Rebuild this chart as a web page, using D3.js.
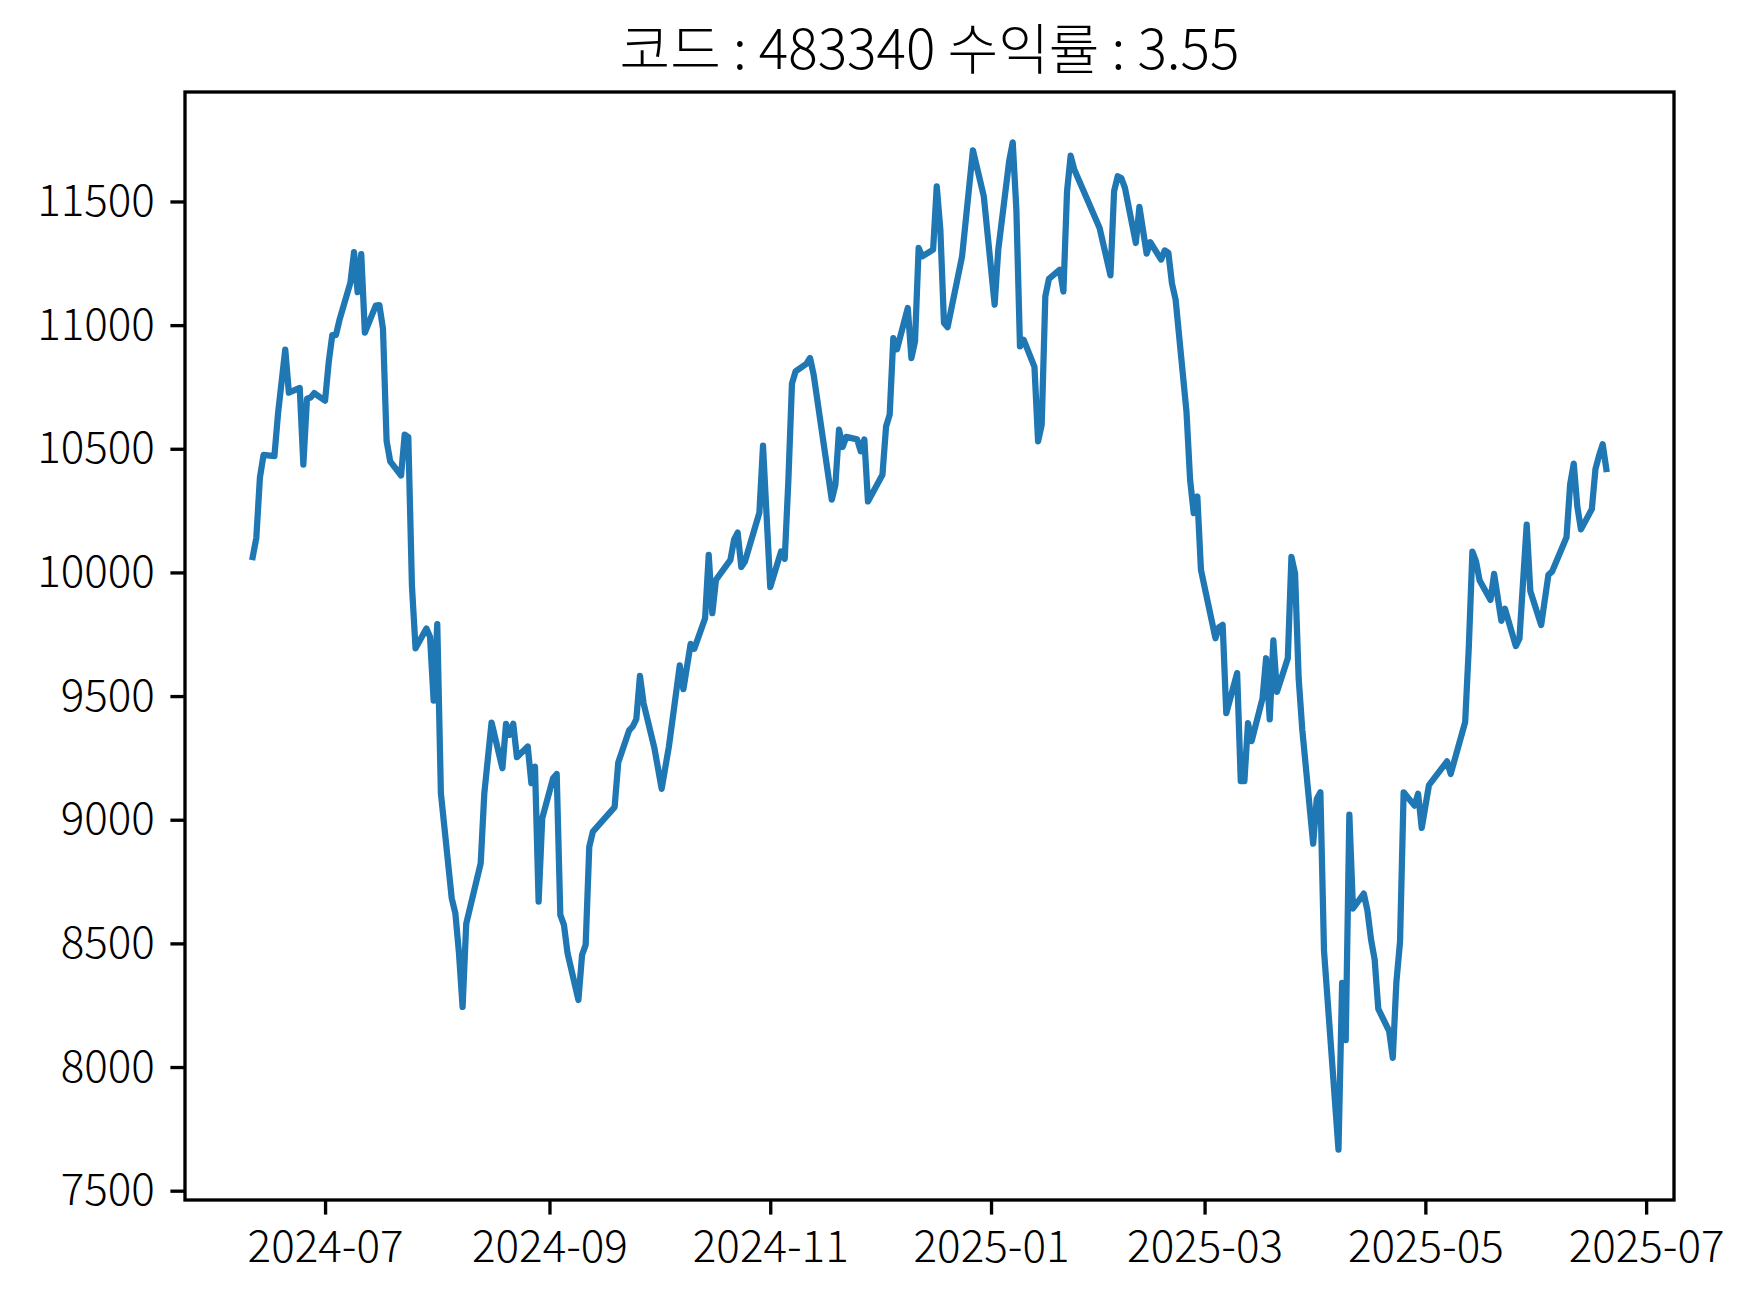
<!DOCTYPE html>
<html><head><meta charset="utf-8">
<script src="https://cdn.jsdelivr.net/npm/d3@7"></script>
<style>html,body{margin:0;padding:0;background:#fff}</style>
</head><body>
<svg id="chart" width="1758" height="1300"></svg>
<script>
const titleText = "코드 : 483340 수익률 : 3.55";
const dates = [
"2024-06-11","2024-06-12","2024-06-13","2024-06-14","2024-06-17","2024-06-18","2024-06-20","2024-06-21","2024-06-24","2024-06-25",
"2024-06-26","2024-06-27","2024-06-28","2024-07-01","2024-07-02","2024-07-03","2024-07-04","2024-07-05","2024-07-08","2024-07-09",
"2024-07-10","2024-07-11","2024-07-12","2024-07-15","2024-07-16","2024-07-17","2024-07-18","2024-07-19","2024-07-22","2024-07-23",
"2024-07-24","2024-07-25","2024-07-26","2024-07-29","2024-07-30","2024-07-31","2024-08-01","2024-08-02","2024-08-05","2024-08-06",
"2024-08-07","2024-08-08","2024-08-09","2024-08-13","2024-08-14","2024-08-16","2024-08-19","2024-08-20","2024-08-21","2024-08-22",
"2024-08-23","2024-08-26","2024-08-27","2024-08-28","2024-08-29","2024-08-30","2024-09-02","2024-09-03","2024-09-04","2024-09-05",
"2024-09-06","2024-09-09","2024-09-10","2024-09-11","2024-09-12","2024-09-13","2024-09-19","2024-09-20","2024-09-23","2024-09-24",
"2024-09-25","2024-09-26","2024-09-27","2024-09-30","2024-10-02","2024-10-04","2024-10-07","2024-10-08","2024-10-10","2024-10-11",
"2024-10-14","2024-10-15","2024-10-16","2024-10-17","2024-10-21","2024-10-22","2024-10-23","2024-10-24","2024-10-25","2024-10-29",
"2024-10-30","2024-11-01","2024-11-04","2024-11-05","2024-11-06","2024-11-07","2024-11-08","2024-11-11","2024-11-12","2024-11-13",
"2024-11-18","2024-11-19","2024-11-20","2024-11-21","2024-11-22","2024-11-25","2024-11-26","2024-11-27","2024-11-28","2024-12-02",
"2024-12-03","2024-12-04","2024-12-05","2024-12-06","2024-12-09","2024-12-10","2024-12-11","2024-12-12","2024-12-13","2024-12-16",
"2024-12-17","2024-12-18","2024-12-19","2024-12-20","2024-12-24","2024-12-27","2024-12-30","2025-01-02","2025-01-03","2025-01-06",
"2025-01-07","2025-01-08","2025-01-09","2025-01-10","2025-01-13","2025-01-14","2025-01-15","2025-01-16","2025-01-17","2025-01-20",
"2025-01-21","2025-01-22","2025-01-23","2025-01-24","2025-01-31","2025-02-03","2025-02-04","2025-02-05","2025-02-06","2025-02-07",
"2025-02-10","2025-02-11","2025-02-13","2025-02-14","2025-02-17","2025-02-18","2025-02-19","2025-02-20","2025-02-21","2025-02-24",
"2025-02-25","2025-02-26","2025-02-27","2025-02-28","2025-03-04","2025-03-05","2025-03-06","2025-03-07","2025-03-10","2025-03-11",
"2025-03-12","2025-03-13","2025-03-14","2025-03-17","2025-03-18","2025-03-19","2025-03-20","2025-03-21","2025-03-24","2025-03-25",
"2025-03-26","2025-03-27","2025-03-28","2025-03-31","2025-04-01","2025-04-02","2025-04-03","2025-04-07","2025-04-08","2025-04-09",
"2025-04-10","2025-04-11","2025-04-14","2025-04-15","2025-04-16","2025-04-17","2025-04-18","2025-04-21","2025-04-22","2025-04-23",
"2025-04-24","2025-04-25","2025-04-28","2025-04-29","2025-04-30","2025-05-02","2025-05-07","2025-05-08","2025-05-12","2025-05-13",
"2025-05-14","2025-05-15","2025-05-16","2025-05-19","2025-05-20","2025-05-22","2025-05-23","2025-05-26","2025-05-27","2025-05-29",
"2025-05-30","2025-06-02","2025-06-04","2025-06-05","2025-06-09","2025-06-10","2025-06-11","2025-06-12","2025-06-13","2025-06-16",
"2025-06-17","2025-06-18","2025-06-19","2025-06-20"
];
const values = [
10062,10139,10384,10475,10470,10642,10901,10727,10746,10436,
10702,10707,10725,10694,10849,10960,10960,11022,11172,11295,
11133,11287,10970,11079,11081,10985,10532,10449,10392,10557,
10547,9946,9693,9773,9740,9482,9791,9107,8682,8622,
8460,8243,8579,8824,9107,9393,9208,9388,9343,9388,
9253,9296,9148,9215,8669,9006,9168,9185,8615,8575,
8460,8271,8453,8494,8891,8952,9051,9231,9361,9377,
9407,9582,9471,9289,9125,9296,9624,9528,9711,9691,
9815,10071,9835,9970,10051,10132,10161,10022,10044,10242,
10513,9941,10085,10055,10370,10763,10813,10844,10867,10799,
10294,10354,10577,10507,10548,10538,10490,10538,10287,10395,
10590,10638,10947,10902,11069,10867,10934,11312,11278,11305,
11561,11386,11009,10992,11278,11707,11521,11083,11305,11662,
11739,11467,10914,10941,10831,10530,10597,11116,11187,11224,
11136,11541,11685,11629,11393,11201,11541,11602,11595,11555,
11332,11478,11289,11335,11265,11302,11292,11168,11103,10650,
10375,10240,10307,10010,9734,9779,9788,9431,9593,9156,
9156,9391,9318,9490,9653,9406,9725,9517,9653,10063,
9996,9571,9364,8903,9084,9111,8470,7666,8340,8109,
9021,8641,8701,8632,8515,8434,8235,8145,8037,8344,
8506,9111,9057,9105,8967,9140,9236,9185,9395,9696,
10084,10045,9967,9889,9994,9804,9853,9702,9732,10193,
9925,9787,9990,10003,10142,10355,10440,10265,10174,10256,
10418,10473,10518,10418
];
const yTicks = [7500, 8000, 8500, 9000, 9500, 10000, 10500, 11000, 11500];
const xTickDates = ["2024-07-01","2024-09-01","2024-11-01","2025-01-01","2025-03-01","2025-05-01","2025-07-01"];
const xTickLabels = ["2024-07","2024-09","2024-11","2025-01","2025-03","2025-05","2025-07"];

const FONT = "'Noto Sans CJK KR','Noto Sans',sans-serif";
const box = {left:185, right:1674, top:92, bottom:1200};
const parse = d3.timeParse("%Y-%m-%d");
const data = dates.map((d,i)=>({date:parse(d), value:values[i]}));

const [xa, xb] = d3.extent(data, d=>d.date);
const xpad = (xb - xa) * 0.05;
const x = d3.scaleTime().domain([new Date(+xa - xpad), new Date(+xb + xpad)]).range([box.left, box.right]);
const [ya, yb] = d3.extent(values);
const ypad = (yb - ya) * 0.05;
const y = d3.scaleLinear().domain([ya - ypad, yb + ypad]).range([box.bottom, box.top]);

const svg = d3.select("#chart");
svg.append("rect").attr("width",1758).attr("height",1300).attr("fill","#fff");

svg.append("defs").append("clipPath").attr("id","clip")
  .append("rect").attr("x",box.left).attr("y",box.top)
  .attr("width",box.right-box.left).attr("height",box.bottom-box.top);

const line = d3.line().x(d=>x(d.date)).y(d=>y(d.value));
svg.append("path").datum(data)
  .attr("clip-path","url(#clip)")
  .attr("d", line)
  .attr("fill","none")
  .attr("stroke","#1f77b4")
  .attr("stroke-width",6.25)
  .attr("stroke-linejoin","round")
  .attr("stroke-linecap","square");

const TL = 14.6, TW = 3.33, FS = 44;
const xAxis = d3.axisBottom(x).tickValues(xTickDates.map(parse))
  .tickFormat((d,i)=>xTickLabels[i]).tickSize(TL).tickPadding(TL);
const gx = svg.append("g").attr("transform",`translate(0,${box.bottom})`).call(xAxis);
const yAxis = d3.axisLeft(y).tickValues(yTicks).tickFormat(d=>String(d)).tickSize(TL).tickPadding(15.5);
const gy = svg.append("g").attr("transform",`translate(${box.left},0)`).call(yAxis);
[gx, gy].forEach(g=>{
  g.select(".domain").remove();
  g.selectAll(".tick line").attr("stroke","#000").attr("stroke-width",TW);
  g.selectAll(".tick text").attr("fill","#000").style("font-family",FONT)
    .style("font-size",FS+"px").style("font-weight",300);
});
gx.selectAll(".tick text").attr("dy","0.74em");

svg.append("rect").attr("x",box.left).attr("y",box.top)
  .attr("width",box.right-box.left).attr("height",box.bottom-box.top)
  .attr("fill","none").attr("stroke","#000").attr("stroke-width",TW);

svg.append("text").attr("x",(box.left+box.right)/2).attr("y",69)
  .attr("text-anchor","middle").style("font-family",FONT).style("font-size","55px")
  .style("font-weight",300).attr("fill","#000").text(titleText);
</script>
</body></html>
